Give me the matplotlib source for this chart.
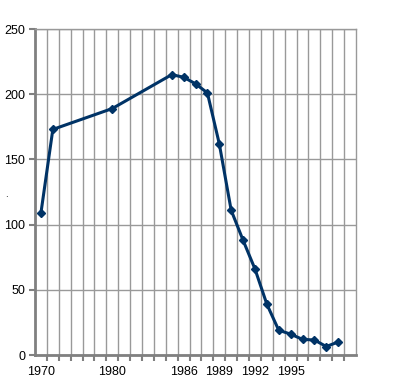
import numpy as np
import matplotlib.pyplot as plt

plt.rcParams['font.family'] = ['Liberation Sans', 'DejaVu Sans']

# category slots on the x axis (Excel-like category axis)
n_categories = 27
label_slots = [0, 6, 12, 15, 18, 21]
label_text = ['1970', '1980', '1986', '1989', '1992', '1995']

# data: slot index and value
slots = [0, 1, 6, 11, 12, 13, 14, 15, 16, 17, 18, 19, 20, 21, 22, 23, 24, 25]
values = [109, 173, 189, 215, 213, 208, 201, 162, 111, 88, 66, 39, 19, 16, 12, 11.5, 6.5, 10]

fig = plt.figure(figsize=(4.12, 3.88), dpi=100)
ax = fig.add_axes([35/412, 33/388, 321/412, 326/388])

ax.plot(slots, values, color='#003366', lw=2.2, marker='D', ms=3.8,
        mec='#003366', mfc='#003366', zorder=3, clip_on=False)

ax.set_xlim(-0.5, n_categories - 0.5)
ax.set_ylim(0, 250)

# major ticks: labels at category centres, no tick marks
ax.set_xticks(label_slots)
ax.set_xticklabels(label_text)
ax.tick_params(axis='x', which='major', length=0, pad=8, labelsize=9)
# minor ticks: category boundaries with tick marks and gridlines
bounds = np.arange(0.5, n_categories - 0.5, 1)
ax.set_xticks(bounds, minor=True)
ax.tick_params(axis='x', which='minor', length=4, width=1.5, color='#808080')
ax.grid(True, which='minor', axis='x', color='#999999', lw=1)

ax.set_yticks(range(0, 251, 50))
ax.tick_params(axis='y', length=4, width=1.5, color='#808080', labelsize=9, pad=3)
ax.grid(True, which='major', axis='y', color='#999999', lw=1)
ax.set_axisbelow(True)

for side in ['top', 'right']:
    ax.spines[side].set_color('#999999')
    ax.spines[side].set_linewidth(1)
for side in ['left', 'bottom']:
    ax.spines[side].set_color('#808080')
    ax.spines[side].set_linewidth(2)

fig.text(6/412, 1 - 194/388, '.', fontsize=7, ha='center', va='center')

fig.savefig('out.png', dpi=100)
